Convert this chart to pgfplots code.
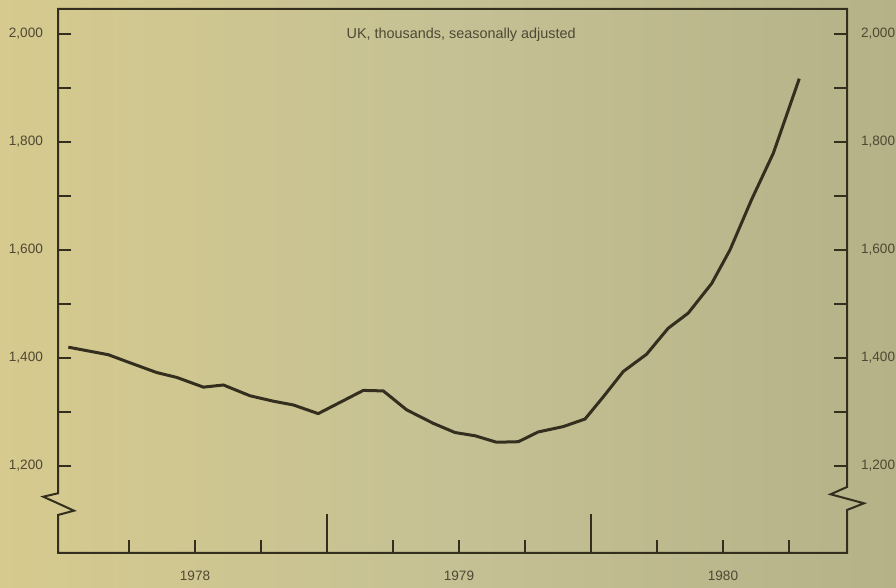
\documentclass[border=0pt]{standalone}
\usepackage{fontspec}
\setmainfont{Liberation Sans}
\usepackage{pgfplots}
\pgfplotsset{compat=1.18}
\usetikzlibrary{backgrounds}

\definecolor{ink}{RGB}{52,46,30}
\definecolor{txt}{RGB}{78,72,52}
\definecolor{paperL}{RGB}{214,202,142}
\definecolor{paperM}{RGB}{197,193,148}
\definecolor{paperR}{RGB}{182,178,136}

% unemployment, UK, thousands, seasonally adjusted (x = months from start of 1978)
\pgfplotstableread{
x      y
0.24   1420
2.06   1406
3.05   1391
4.26   1373
5.17   1364
6.38   1346
7.29   1350
8.50   1330
9.56   1320
10.47  1313
11.60  1297
13.65  1340
14.56  1339
15.62  1304
16.83  1279
17.82  1262
18.73  1256
19.71  1244
20.70  1245
21.60  1263
22.74  1273
23.73  1287
24.56  1328
25.47  1375
26.53  1407
27.51  1455
28.42  1483
29.49  1538
30.32  1600
31.30  1693
32.29  1779
33.47  1917
}\unemp

\pgfplotsset{
  common/.style={
    scale only axis, width=394.5pt, height=272pt,
    xmin=-0.23, xmax=35.64, ymin=1039, ymax=2046,
    axis line style={draw=none},
    tick align=inside,
    every tick/.style={ink, line width=0.9pt},
    major tick length=6.3pt, minor tick length=6.3pt,
    ytick={1200,1400,1600,1800,2000},
    minor ytick={1300,1500,1700,1900},
    /pgf/number format/assume math mode=true,
    /pgf/number format/1000 sep={,},
    tick label style={font=\fontsize{6.8}{8}\selectfont, text=txt},
  },
}

\begin{document}
\begin{tikzpicture}
\begin{axis}[common, name=main,
    ytick pos=left, xtick pos=bottom,
    yticklabel style={xshift=-4pt},
    xtick={6,18,30}, xticklabels={1978,1979,1980},
    xticklabel style={yshift=-5.5pt},
    major x tick style={/pgfplots/major tick length=0pt},
    minor xtick={3,6,9,15,18,21,27,30,33},
    extra x ticks={12,24},
    extra x tick labels={},
    extra x tick style={major x tick style={/pgfplots/major tick length=19.5pt}},
  ]
  \addplot[ink, line width=1.5pt, line join=round] table[x=x, y=y] {\unemp};
  \node[font=\fontsize{7.2}{8.5}\selectfont, text=txt] at (rel axis cs:0.511,0.953) {UK, thousands, seasonally adjusted};
\end{axis}
\begin{axis}[common,
    ytick pos=right, yticklabel pos=right,
    yticklabel style={xshift=3.5pt},
    xtick=\empty,
  ]
\end{axis}
% frame with the broken scale marks
\draw[ink, line width=1pt, line join=miter]
  (main.north west) -- ([yshift=29.85pt]main.south west)
  -- ([shift={(-7.35pt,28.15pt)}]main.south west)
  -- ([shift={(8pt,21.15pt)}]main.south west)
  -- ([yshift=19pt]main.south west) -- (main.south west)
  -- (main.south east) -- ([yshift=21.5pt]main.south east)
  -- ([shift={(8.5pt,24.85pt)}]main.south east)
  -- ([shift={(-8.2pt,29.35pt)}]main.south east)
  -- ([yshift=33pt]main.south east) -- (main.north east) -- cycle;
\begin{scope}[on background layer]
  \shade[left color=paperL, right color=paperR, middle color=paperM]
    ([shift={(-29pt,-17.5pt)}]main.south west) rectangle ([shift={(24.5pt,4.5pt)}]main.north east);
\end{scope}
\pgfresetboundingbox
\useasboundingbox ([shift={(-29pt,-17.5pt)}]main.south west) rectangle ([shift={(24.5pt,4.5pt)}]main.north east);
\end{tikzpicture}
\end{document}
